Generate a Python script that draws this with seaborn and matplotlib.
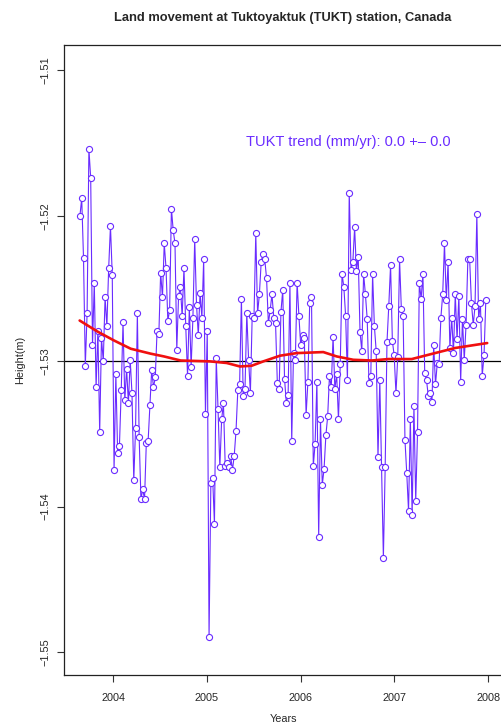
import numpy as np
import pandas as pd
import matplotlib
matplotlib.use("Agg")
import matplotlib.pyplot as plt
import seaborn as sns

# Weekly GPS height solutions for TUKT (metres), starting 2003-08-24
start_date = "2003-08-24"
height_m = [
    -1.5200, -1.5188, -1.5229, -1.5303, -1.5267, -1.5154, -1.5174, -1.5289, -1.5246, -1.5318,
    -1.5279, -1.5349, -1.5284, -1.5300, -1.5256, -1.5276, -1.5236, -1.5207, -1.5241, -1.5375,
    -1.5309, -1.5363, -1.5358, -1.5320, -1.5273, -1.5327, -1.5305, -1.5329, -1.5299, -1.5322,
    -1.5382, -1.5346, -1.5267, -1.5352, -1.5395, -1.5388, -1.5395, -1.5356, -1.5355, -1.5330,
    -1.5306, -1.5318, -1.5311, -1.5279, -1.5281, -1.5239, -1.5256, -1.5219, -1.5236, -1.5272,
    -1.5265, -1.5195, -1.5210, -1.5219, -1.5292, -1.5255, -1.5249, -1.5269, -1.5236, -1.5276,
    -1.5310, -1.5263, -1.5304, -1.5270, -1.5216, -1.5261, -1.5282, -1.5253, -1.5270, -1.5230,
    -1.5336, -1.5279, -1.5490, -1.5384, -1.5380, -1.5412, -1.5298, -1.5333, -1.5373, -1.5340,
    -1.5329, -1.5372, -1.5370, -1.5373, -1.5365, -1.5375, -1.5365, -1.5348, -1.5320, -1.5316,
    -1.5257, -1.5324, -1.5319, -1.5267, -1.5299, -1.5322, -1.5269, -1.5270, -1.5212, -1.5267,
    -1.5254, -1.5232, -1.5226, -1.5230, -1.5243, -1.5274, -1.5265, -1.5254, -1.5270, -1.5274,
    -1.5315, -1.5319, -1.5266, -1.5251, -1.5312, -1.5329, -1.5323, -1.5246, -1.5355, -1.5294,
    -1.5299, -1.5246, -1.5269, -1.5289, -1.5282, -1.5284, -1.5337, -1.5314, -1.5260, -1.5256,
    -1.5372, -1.5357, -1.5314, -1.5421, -1.5340, -1.5385, -1.5374, -1.5351, -1.5338, -1.5310,
    -1.5318, -1.5283, -1.5319, -1.5309, -1.5340, -1.5302, -1.5240, -1.5249, -1.5269, -1.5313,
    -1.5184, -1.5237, -1.5232, -1.5208, -1.5238, -1.5228, -1.5280, -1.5293, -1.5240, -1.5254,
    -1.5271, -1.5315, -1.5310, -1.5240, -1.5276, -1.5293, -1.5366, -1.5313, -1.5373, -1.5435,
    -1.5373, -1.5287, -1.5262, -1.5234, -1.5286, -1.5296, -1.5322, -1.5297, -1.5230, -1.5264,
    -1.5269, -1.5354, -1.5377, -1.5403, -1.5340, -1.5406, -1.5331, -1.5396, -1.5349, -1.5246,
    -1.5257, -1.5240, -1.5308, -1.5313, -1.5324, -1.5322, -1.5328, -1.5289, -1.5316, -1.5301,
    -1.5302, -1.5270, -1.5254, -1.5219, -1.5258, -1.5232, -1.5291, -1.5270, -1.5294, -1.5254,
    -1.5285, -1.5255, -1.5314, -1.5271, -1.5299, -1.5275, -1.5230, -1.5230, -1.5260, -1.5275,
    -1.5262, -1.5199, -1.5271, -1.5260, -1.5310, -1.5296, -1.5258,
]

# Smoothed trend curve (decimal year, height)
trend_year = [2003.641, 2003.829, 2004.007, 2004.186, 2004.399, 2004.541, 2004.719, 2005.032,
              2005.210, 2005.352, 2005.477, 2005.601, 2005.779, 2005.957, 2006.241, 2006.384,
              2006.561, 2006.758, 2006.935, 2007.185, 2007.433, 2007.647, 2007.990]
trend_height = [-1.52720, -1.52795, -1.52857, -1.52914, -1.52948, -1.52967, -1.52995, -1.53001,
                -1.53012, -1.53036, -1.53031, -1.53001, -1.52962, -1.52944, -1.52937, -1.52967,
                -1.52990, -1.52995, -1.52985, -1.52985, -1.52944, -1.52909, -1.52875]

reference_level = -1.53
x_ticks = [2004, 2005, 2006, 2007, 2008]
y_ticks = [-1.55, -1.54, -1.53, -1.52, -1.51]
trend_label = "TUKT trend (mm/yr): 0.0 +\u2013 0.0"

dates = pd.date_range(start_date, periods=len(height_m), freq="7D")
decimal_year = dates.year + (dates.dayofyear - 1) / np.where(dates.is_leap_year, 366.0, 365.0)
df = pd.DataFrame({"year": decimal_year, "height": height_m})
trend_df = pd.DataFrame({"year": trend_year, "height": trend_height})

sns.set_style("ticks")
plt.rcParams["font.family"] = ["Liberation Sans", "DejaVu Sans"]

point_color = "#6a2cff"

fig = plt.figure(figsize=(5.01, 7.26), dpi=100)
ax = fig.add_axes([64 / 501, 1 - 675 / 726, 438 / 501, 630 / 726])

ax.axhline(reference_level, color="black", lw=0.9, zorder=1)
sns.lineplot(data=df, x="year", y="height", ax=ax, color=point_color, lw=0.8,
             marker="o", markersize=4.4, markerfacecolor="white",
             markeredgecolor=point_color, markeredgewidth=0.8, zorder=2)
sns.lineplot(data=trend_df, x="year", y="height", ax=ax, color="#f01010", lw=1.9, zorder=3)

ax.set_xlim(2003.474, 2008.148)
ax.set_ylim(-1.55158, -1.50825)
ax.set_xticks(x_ticks)
ax.set_xticklabels([str(v) for v in x_ticks], fontsize=7.8)
ax.set_yticks(y_ticks)
ax.set_yticklabels([f"{v:.2f}".replace("-", "\u2212") for v in y_ticks], fontsize=7.8,
                   rotation=90, va="center")
ax.tick_params(axis="x", direction="out", length=5, width=0.8, color="#333333", pad=8)
ax.tick_params(axis="y", direction="out", length=5, width=0.8, color="#333333", pad=5)
for s in ax.spines.values():
    s.set_visible(True)
    s.set_linewidth(0.9)
    s.set_color("#222222")

ax.set_xlabel("Years", fontsize=7.8, labelpad=8)
ax.set_ylabel("Height(m)", fontsize=7.8, labelpad=11)

ax.text(2006.505, -1.5149, trend_label, color=point_color, fontsize=10.5,
        ha="center", va="center")

fig.text(283 / 501, 1 - 18 / 726, "Land movement at Tuktoyaktuk (TUKT) station, Canada",
         ha="center", va="center", fontsize=9.3, fontweight="bold")

fig.savefig("out.png", dpi=100)
